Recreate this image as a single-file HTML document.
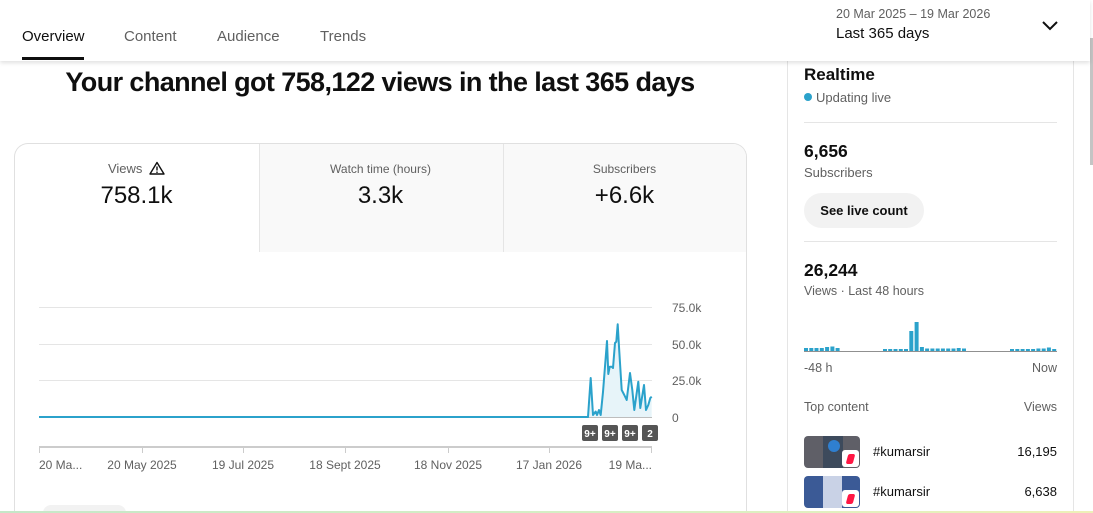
<!DOCTYPE html>
<html><head><meta charset="utf-8">
<style>
*{margin:0;padding:0;box-sizing:border-box}
html,body{width:1093px;height:513px;overflow:hidden;background:#fff}
body{font-family:"Liberation Sans",Arial,sans-serif;color:#0f0f0f}
#wrap{position:relative;width:1093px;height:513px;overflow:hidden}
.a{position:absolute;white-space:nowrap}
.g{color:#606060}
</style></head><body><div id="wrap">

<!-- header -->
<div class="a" style="left:0;top:0;width:1090px;height:61px;background:#fff;box-shadow:0 2px 4px rgba(0,0,0,0.12);z-index:5"></div>
<div class="a" style="left:22px;top:28px;font-size:15px;color:#0f0f0f;z-index:6">Overview</div>
<div class="a" style="left:22px;top:57px;width:62px;height:3px;background:#0f0f0f;z-index:6"></div>
<div class="a g" style="left:124px;top:28px;font-size:15px;z-index:6">Content</div>
<div class="a g" style="left:217px;top:28px;font-size:15px;z-index:6">Audience</div>
<div class="a g" style="left:320px;top:28px;font-size:15px;z-index:6">Trends</div>
<div class="a g" style="left:836px;top:7px;font-size:12.5px;z-index:6">20 Mar 2025 – 19 Mar 2026</div>
<div class="a" style="left:836px;top:25px;font-size:15px;z-index:6">Last 365 days</div>
<svg class="a" style="left:1040px;top:18px;z-index:6" width="20" height="16"><polyline points="3,4 10,11 17,4" fill="none" stroke="#0f0f0f" stroke-width="2"/></svg>

<!-- scrollbar & right border -->
<div class="a" style="left:1073px;top:61px;width:1px;height:452px;background:#e5e5e5"></div>
<div class="a" style="left:1090px;top:38px;width:3px;height:127px;background:#c4c4c4"></div>

<!-- headline -->
<div class="a" style="left:14px;width:732px;top:67px;text-align:center;font-size:27px;font-weight:bold;letter-spacing:-0.6px">Your channel got 758,122 views in the last 365 days</div>

<!-- card -->
<div class="a" style="left:14px;top:143px;width:733px;height:370px;border:1px solid #e0e0e0;border-bottom:none;border-radius:14px 14px 0 0;overflow:hidden">
  <div class="a" style="left:244px;top:0;width:244px;height:108px;background:#f9f9f9;border-left:1px solid #e5e5e5"></div>
  <div class="a" style="left:488px;top:0;width:245px;height:108px;background:#f9f9f9;border-left:1px solid #e5e5e5"></div>
</div>
<div class="a g" style="left:15px;width:243px;top:161px;text-align:center;font-size:13px">Views <svg width="16" height="14" style="vertical-align:-2px;margin-left:3px"><path d="M8 1.5 L15 13 L1 13 Z" fill="none" stroke="#0f0f0f" stroke-width="1.4" stroke-linejoin="round"/><line x1="8" y1="5.5" x2="8" y2="9.5" stroke="#0f0f0f" stroke-width="1.4"/><circle cx="8" cy="11.2" r="0.8" fill="#0f0f0f"/></svg></div>
<div class="a" style="left:15px;width:243px;top:182px;text-align:center;font-size:24px">758.1k</div>
<div class="a g" style="left:259px;width:243px;top:162px;text-align:center;font-size:12px">Watch time (hours)</div>
<div class="a" style="left:259px;width:243px;top:182px;text-align:center;font-size:24px">3.3k</div>
<div class="a g" style="left:503px;width:243px;top:162px;text-align:center;font-size:12px">Subscribers</div>
<div class="a" style="left:503px;width:243px;top:182px;text-align:center;font-size:24px">+6.6k</div>

<!-- chart -->
<svg class="a" style="left:0;top:0" width="1093" height="513">
  <line x1="39" y1="307.5" x2="652" y2="307.5" stroke="#e5e5e5"/>
  <line x1="39" y1="344.5" x2="652" y2="344.5" stroke="#e5e5e5"/>
  <line x1="39" y1="380.5" x2="652" y2="380.5" stroke="#e5e5e5"/>
  <line x1="39" y1="417.5" x2="652" y2="417.5" stroke="#bdbdbd"/>
  <polygon fill="#e7f4f9" points="588,417 590.7,378 593,415 595.7,411.5 597,415 599,410 600.7,415 603,392 607,341 608.3,374 609.7,366.7 611.7,366.7 613,368 615,343 616.3,341.7 617.7,324.3 619.3,351.7 621.7,390 624.3,395 626.7,400 630,373 632.3,390 634.3,410 638.3,381.7 640.3,408 644,385 646,410 648.3,405 650.3,398 651.7,396.7 651.7,417"/>
  <polyline fill="none" stroke="#2ba2cb" stroke-width="2" stroke-linejoin="round" points="39,417 588,417 590.7,378 593,415 595.7,411.5 597,415 599,410 600.7,415 603,392 607,341 608.3,374 609.7,366.7 611.7,366.7 613,368 615,343 616.3,341.7 617.7,324.3 619.3,351.7 621.7,390 624.3,395 626.7,400 630,373 632.3,390 634.3,410 638.3,381.7 640.3,408 644,385 646,410 648.3,405 650.3,398 651.7,396.7"/>
  <g fill="#555">
    <rect x="582" y="425" width="16" height="16" rx="2"/>
    <rect x="602" y="425" width="16" height="16" rx="2"/>
    <rect x="622" y="425" width="16" height="16" rx="2"/>
    <rect x="642" y="425" width="16" height="16" rx="2"/>
  </g>
  <g fill="#fff" font-family="Liberation Sans, Arial, sans-serif" font-size="10" font-weight="bold" text-anchor="middle">
    <text x="590" y="437">9+</text><text x="610" y="437">9+</text><text x="630" y="437">9+</text><text x="650" y="437">2</text>
  </g>
  <line x1="39" y1="447" x2="652" y2="447" stroke="#cccccc" stroke-width="2"/>
  <g stroke="#cccccc" stroke-width="1">
    <line x1="39.5" y1="447" x2="39.5" y2="453"/><line x1="142.5" y1="447" x2="142.5" y2="453"/><line x1="243.5" y1="447" x2="243.5" y2="453"/><line x1="345.5" y1="447" x2="345.5" y2="453"/><line x1="448.5" y1="447" x2="448.5" y2="453"/><line x1="549.5" y1="447" x2="549.5" y2="453"/><line x1="651.5" y1="447" x2="651.5" y2="453"/>
  </g>
  <g fill="#606060" font-family="Liberation Sans, Arial, sans-serif" font-size="12">
    <text x="672" y="312">75.0k</text><text x="672" y="349">50.0k</text><text x="672" y="385">25.0k</text><text x="672" y="422">0</text>
  </g>
  <g fill="#606060" font-family="Liberation Sans, Arial, sans-serif" font-size="12" text-anchor="middle">
    <text x="39" y="469" text-anchor="start">20 Ma...</text>
    <text x="142" y="469">20 May 2025</text>
    <text x="243" y="469">19 Jul 2025</text>
    <text x="345" y="469">18 Sept 2025</text>
    <text x="448" y="469">18 Nov 2025</text>
    <text x="549" y="469">17 Jan 2026</text>
    <text x="652" y="469" text-anchor="end">19 Ma...</text>
  </g>
  <!-- realtime bars -->
  <line x1="804" y1="351.5" x2="1057" y2="351.5" stroke="#909090" stroke-width="1"/>
  <g fill="#2ba2cb">
    <rect x="804" y="348" width="4" height="3"/><rect x="809.3" y="348" width="4" height="3"/><rect x="814.5" y="348" width="4" height="3"/><rect x="819.8" y="348" width="4" height="3"/><rect x="825.1" y="347" width="4" height="4"/><rect x="830.4" y="346.5" width="4" height="4.5"/><rect x="835.6" y="348" width="4" height="3"/>
    <rect x="883" y="349" width="4" height="2"/><rect x="888.2" y="349" width="4" height="2"/><rect x="893.5" y="349" width="4" height="2"/><rect x="898.8" y="349" width="4" height="2"/><rect x="904" y="349" width="4" height="2"/>
    <rect x="909.3" y="331" width="4" height="20"/><rect x="914.6" y="322" width="4" height="29"/><rect x="919.9" y="347" width="4" height="4"/>
    <rect x="925.1" y="348.5" width="4" height="2.5"/><rect x="930.4" y="348.5" width="4" height="2.5"/><rect x="935.7" y="348.5" width="4" height="2.5"/><rect x="940.9" y="348.5" width="4" height="2.5"/><rect x="946.2" y="348.5" width="4" height="2.5"/><rect x="951.5" y="348.5" width="4" height="2.5"/><rect x="956.7" y="348" width="4" height="3"/><rect x="962" y="348.5" width="4" height="2.5"/>
    <rect x="1010" y="349" width="4" height="2"/><rect x="1015.3" y="349" width="4" height="2"/><rect x="1020.6" y="349" width="4" height="2"/><rect x="1025.9" y="349" width="4" height="2"/><rect x="1031.1" y="349" width="4" height="2"/><rect x="1036.4" y="348.5" width="4" height="2.5"/><rect x="1041.7" y="348.5" width="4" height="2.5"/><rect x="1046.9" y="347.5" width="4" height="3.5"/><rect x="1052.2" y="349" width="4" height="2"/>
  </g>
</svg>

<!-- right panel -->
<div class="a" style="left:787px;top:61px;width:1px;height:452px;background:#e5e5e5"></div>
<div class="a" style="left:804px;top:65px;font-size:17px;font-weight:bold">Realtime</div>
<div class="a" style="left:804px;top:93px;width:8px;height:8px;border-radius:50%;background:#2ba2cb"></div>
<div class="a g" style="left:816px;top:90px;font-size:13px">Updating live</div>
<div class="a" style="left:804px;top:122px;width:253px;height:1px;background:#e5e5e5"></div>
<div class="a" style="left:804px;top:141px;font-size:17.5px;font-weight:bold">6,656</div>
<div class="a g" style="left:804px;top:165px;font-size:13px">Subscribers</div>
<div class="a" style="left:804px;top:193px;width:120px;height:35px;border-radius:18px;background:#f2f2f2;font-size:13px;font-weight:bold;line-height:35px;text-align:center">See live count</div>
<div class="a" style="left:804px;top:241px;width:253px;height:1px;background:#e5e5e5"></div>
<div class="a" style="left:804px;top:260px;font-size:17.5px;font-weight:bold">26,244</div>
<div class="a g" style="left:804px;top:284px;font-size:12.5px">Views · Last 48 hours</div>
<div class="a g" style="left:804px;top:361px;font-size:12.5px">-48 h</div>
<div class="a g" style="left:1057px;top:361px;font-size:12.5px;transform:translateX(-100%)">Now</div>
<div class="a g" style="left:804px;top:400px;font-size:12.5px">Top content</div>
<div class="a g" style="left:1057px;top:400px;font-size:12.5px;transform:translateX(-100%)">Views</div>

<div class="a" style="left:804px;top:436px;width:56px;height:32px;border-radius:4px;background:#5f5f67;overflow:hidden">
  <div class="a" style="left:19px;top:0;width:20px;height:32px;background:#3d4a5c"></div>
  <div class="a" style="left:24px;top:4px;width:12px;height:12px;border-radius:50%;background:#2f7fd0"></div>
  <div class="a" style="left:38px;top:14px;width:17px;height:17px;border-radius:3px;background:#fff"></div>
  <div class="a" style="left:43px;top:18px;width:7px;height:10px;border-radius:2px;background:#ff1744;transform:skewX(-15deg)"></div>
</div>
<div class="a" style="left:873px;top:444px;font-size:13px">#kumarsir</div>
<div class="a" style="left:1057px;top:444px;font-size:13px;transform:translateX(-100%)">16,195</div>

<div class="a" style="left:804px;top:476px;width:56px;height:32px;border-radius:4px;background:#3b5a96;overflow:hidden">
  <div class="a" style="left:19px;top:0;width:19px;height:32px;background:#c9d2e6"></div>
  <div class="a" style="left:38px;top:14px;width:17px;height:17px;border-radius:3px;background:#fff"></div>
  <div class="a" style="left:43px;top:18px;width:7px;height:10px;border-radius:2px;background:#ff1744;transform:skewX(-15deg)"></div>
</div>
<div class="a" style="left:873px;top:484px;font-size:13px">#kumarsir</div>
<div class="a" style="left:1057px;top:484px;font-size:13px;transform:translateX(-100%)">6,638</div>

<!-- bottom -->
<div class="a" style="left:43px;top:505px;width:83px;height:8px;border-radius:8px 8px 0 0;background:#f2f2f2"></div>
<div class="a" style="left:0;top:511px;width:1093px;height:2px;background:linear-gradient(90deg,#c6e7c8,#d8efc4 60%,#eef0b8)"></div>
</div></body></html>
